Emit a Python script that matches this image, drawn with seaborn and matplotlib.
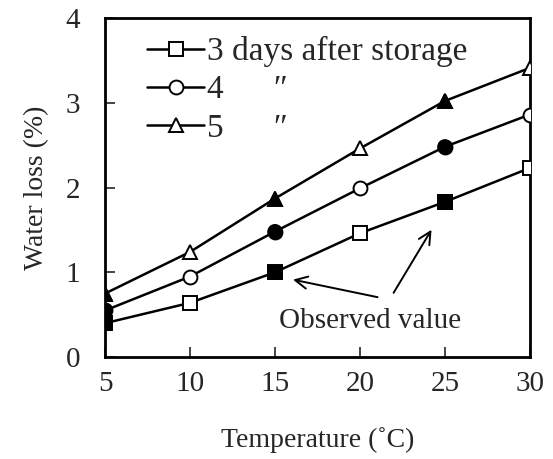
import numpy as np
import pandas as pd
import matplotlib
matplotlib.use('Agg')
import matplotlib.pyplot as plt
import seaborn as sns
from matplotlib.lines import Line2D

# data
temps = [5, 10, 15, 20, 25, 30]
days3 = [0.40, 0.64, 1.00, 1.46, 1.83, 2.23]
days4 = [0.55, 0.95, 1.48, 1.99, 2.48, 2.86]
days5 = [0.75, 1.24, 1.87, 2.46, 3.02, 3.41]
observed_temps = [5, 15, 25]
series_names = ['3 days after storage', '4', '5']
series_markers = ['s', 'o', '^']
x_ticks = [5, 10, 15, 20, 25, 30]
y_ticks = [0, 1, 2, 3, 4]


def build_frame():
    rows = []
    for name, vals in zip(series_names, [days3, days4, days5]):
        for t, v in zip(temps, vals):
            rows.append({'temp': t, 'loss': v, 'series': name,
                         'observed': t in observed_temps})
    return pd.DataFrame(rows)


def plot_data(df, out_path):
    sns.set_style('ticks')
    plt.rcParams['font.family'] = ['Liberation Serif', 'DejaVu Serif']
    fig, ax = plt.subplots(figsize=(5.53, 4.59), dpi=100)
    fig.subplots_adjust(left=0.19, right=0.958, bottom=0.222, top=0.961)

    mk = dict(zip(series_names, series_markers))
    sns.lineplot(data=df, x='temp', y='loss', hue='series', style='series',
                 markers=mk, dashes=False, palette=['black'] * 3,
                 markersize=10, markerfacecolor='white', markeredgecolor='black',
                 markeredgewidth=1.4, linewidth=1.8, legend=False, ax=ax, zorder=3)
    obs = df[df['observed']]
    sns.scatterplot(data=obs, x='temp', y='loss', style='series', markers=mk,
                    color='black', s=95, edgecolor='black', linewidth=1.2,
                    legend=False, ax=ax, zorder=4)

    ax.set_xlim(5, 30)
    ax.set_ylim(0, 4)
    ax.set_xticks(x_ticks)
    ax.set_yticks(y_ticks)
    ax.tick_params(direction='in', length=7, width=1.2, labelsize=21)
    ax.tick_params(axis='y', pad=18)
    ax.tick_params(axis='x', pad=10)
    for s in ax.spines.values():
        s.set_linewidth(2.0)
        s.set_color('black')
    ax.set_xlabel('Temperature (\u02daC)', fontsize=20, labelpad=22)
    ax.set_ylabel('Water loss (%)', fontsize=20, labelpad=12)

    handles = [Line2D([], [], color='black', lw=1.8, marker=m, markersize=10,
                      markerfacecolor='white', markeredgecolor='black',
                      markeredgewidth=1.4) for m in series_markers]
    labels = ['3 days after storage', '4      \u2033', '5      \u2033']
    ax.legend(handles, labels, loc='upper left', bbox_to_anchor=(0.06, 0.995),
              frameon=False, fontsize=24, handlelength=1.7, handletextpad=0.1,
              labelspacing=0.23, borderaxespad=0.1)

    ax.text(20.6, 0.34, 'Observed value', fontsize=21, ha='center', va='baseline')
    arrow = dict(arrowstyle='->', lw=1.4, color='black', mutation_scale=22)
    ax.annotate('', xy=(15.9, 0.92), xytext=(21.2, 0.70), arrowprops=arrow)
    ax.annotate('', xy=(24.3, 1.53), xytext=(21.9, 0.73), arrowprops=arrow)

    fig.savefig(out_path, facecolor='white')
    plt.close(fig)


def main():
    df = build_frame()
    plot_data(df, 'out.png')


if __name__ == "__main__":
    main()
